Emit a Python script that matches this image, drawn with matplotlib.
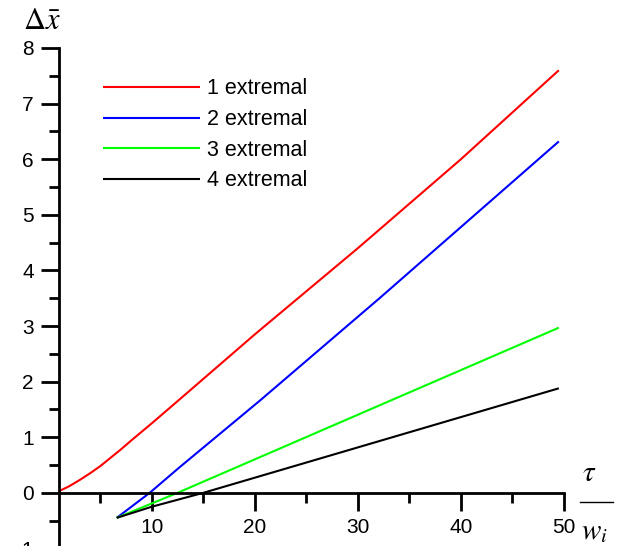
import numpy as np
import matplotlib.pyplot as plt
from matplotlib.lines import Line2D

plt.rcParams['font.family'] = ['Liberation Sans', 'DejaVu Sans']
plt.rcParams['mathtext.fontset'] = 'stix'

# valores
x1 = [1, 2, 3, 4, 5, 6, 7, 8, 10, 12.7, 20, 30, 40, 49.5]
y1 = [0.03, 0.12, 0.23, 0.35, 0.48, 0.63, 0.78, 0.94, 1.25, 1.68, 2.85, 4.4, 6.0, 7.6]

x2 = [6.6, 9.8, 12.7, 20.5, 32.1, 49.5]
y2 = [-0.45, 0.0, 0.46, 1.66, 3.5, 6.32]

x3 = [6.6, 12.5, 49.5]
y3 = [-0.45, 0.0, 2.97]

x4 = [6.6, 10, 15, 49.5]
y4 = [-0.45, -0.25, 0.0, 1.88]

etiquetas = ['1 extremal', '2 extremal', '3 extremal', '4 extremal']
colores = ['#ff0000', '#0000ff', '#00ff00', '#000000']

W, H = 620, 546
fig = plt.figure(figsize=(W / 100, H / 100), dpi=100)
# ejes: x de 1 a 50 -> px 59..564 ; y de -1.1 a 8 -> px 554..48
ax = fig.add_axes([59 / W, (H - 554) / H, 505 / W, (554 - 48) / H])

for xs, ys, c, lab in zip([x1, x2, x3, x4], [y1, y2, y3, y4], colores, etiquetas):
    ax.plot(xs, ys, color=c, lw=1.5, label=lab, solid_capstyle='butt')

ax.set_xlim(1, 50)
ax.set_ylim(-1.1, 8)

ax.spines['top'].set_visible(False)
ax.spines['right'].set_visible(False)
ax.spines['bottom'].set_position(('data', 0))
ax.spines['left'].set_bounds(-1.1, 8)
ax.spines['bottom'].set_linewidth(2)
ax.spines['left'].set_linewidth(2)

ax.set_xticks([10, 20, 30, 40, 50])
ax.set_xticks([5, 15, 25, 35, 45], minor=True)
ax.set_yticks(range(-1, 9))
ax.set_yticklabels(['-1', '0', '1', '2', '3', '4', '5', '6', '7', '8'])
ax.set_yticks(np.arange(-0.5, 8, 1), minor=True)

ax.tick_params(which='major', length=13, width=2, labelsize=15, direction='out')
ax.tick_params(which='minor', length=7, width=2, direction='out')
ax.tick_params(axis='x', which='major', pad=5)
ax.tick_params(axis='y', which='major', pad=5)

ax.legend(loc='upper left', bbox_to_anchor=(0.087, 0.94), frameon=False,
          fontsize=15.5, handlelength=4.5, handletextpad=0.35,
          labelspacing=0.45, borderaxespad=0, borderpad=0)

# etiquetas de los ejes
fig.text(23 / W, 1 - 36 / H, r'$\Delta\bar{x}$', fontsize=22, ha='left', va='bottom')
fig.text(589 / W, 1 - 487 / H, r'$\tau$', fontsize=21, ha='center', va='bottom')
fig.add_artist(Line2D([580 / W, 613 / W], [1 - 502 / H, 1 - 502 / H],
                      color='black', lw=1, transform=fig.transFigure))
fig.text(594 / W, 1 - 545 / H, r'$w_i$', fontsize=21, ha='center', va='bottom')

plt.savefig('out.png', dpi=100)
